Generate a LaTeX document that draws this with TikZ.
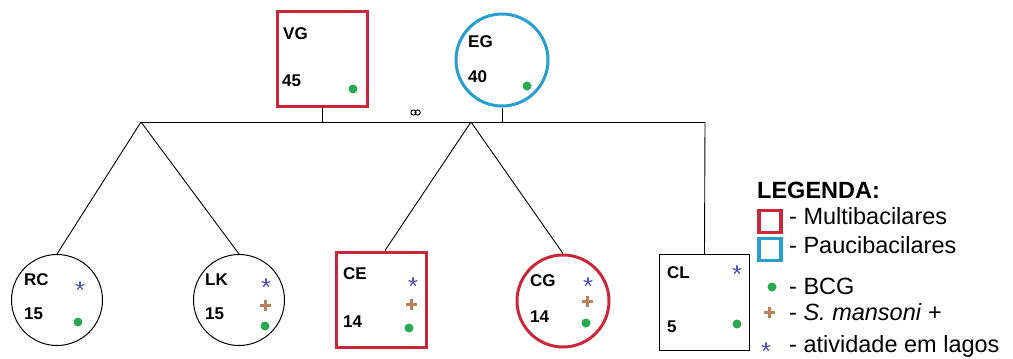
\documentclass[tikz,border=0pt]{standalone}
\usepackage{fontspec}
\setmainfont{Liberation Sans}
\definecolor{mbred}{RGB}{200,40,58}
\definecolor{pbblue}{RGB}{40,158,205}
\definecolor{bcggreen}{RGB}{40,170,80}
\definecolor{smbrown}{RGB}{185,128,88}
\definecolor{lakeblue}{RGB}{85,85,190}
\tikzset{
  famlabel/.style={anchor=base west, inner sep=0pt, font=\fontsize{17}{19}\selectfont\bfseries},
  multibox/.style={draw=mbred, line width=3pt, minimum width=90pt, minimum height=95pt, inner sep=0pt},
  plainbox/.style={draw=black, line width=0.9pt, minimum width=90pt, minimum height=96pt, inner sep=0pt},
  pauciring/.style={circle, draw=pbblue, line width=3pt, minimum size=92pt, inner sep=0pt},
  multiring/.style={circle, draw=mbred, line width=3pt, minimum size=92pt, inner sep=0pt},
  plainring/.style={circle, draw=black, line width=1pt, minimum size=91pt, inner sep=0pt},
  bcgdot/.style={circle, fill=bcggreen, minimum size=9pt, inner sep=0pt},
  link/.style={draw=black, line width=0.9pt},
  legtext/.style={anchor=base west, inner sep=0pt, font=\fontsize{23.5}{27}\selectfont},
  legicon/.style={minimum size=22pt, inner sep=0pt, line width=3.5pt},
  lakestar/.pic={\foreach \a in {90,162,234,306,18}
      \draw[lakeblue, line width=1.3pt, line cap=round] (0,0) -- (\a:4.2pt);},
  smplus/.pic={\draw[smbrown, line width=3pt] (-5.5pt,0) -- (5.5pt,0) (0,-5.5pt) -- (0,5.5pt);}
}
\begin{document}
\begin{tikzpicture}[x=1pt, y=-1pt]
\useasboundingbox (0,0) rectangle (1013,359);

% parents
\node[multibox] (VG) at (322.5,59) {};
\node[famlabel] (VGn) at (283,39) {VG};
\node[famlabel] (VGc) at (282,86) {45};
\node[bcgdot] (VGd) at (353,89) {};

\node[pauciring] (EG) at (502,60) {};
\node[famlabel] (EGn) at (468,47) {EG};
\node[famlabel] (EGc) at (468,82) {40};
\node[bcgdot] (EGd) at (527,86) {};

% marriage line and its junctions
\coordinate (Lft) at (141,122);
\coordinate (Mid) at (471,122);
\coordinate (Rgt) at (705,122);
\draw[link] (Lft) -- (Rgt);
\draw[link] (VG.south) -- (VG.south |- Lft);
\draw[link] (EG.south) -- (EG.south |- Lft);
\draw[line width=0.9pt] (413.5,112.5) circle (2.6pt) (417.7,112.5) circle (2.6pt);

% children
\node[plainring] (RC) at (57,300) {};
\node[famlabel] (RCn) at (24,285) {RC};
\node[famlabel] (RCc) at (24,319) {15};
\pic at (80,286) {lakestar};
\node[bcgdot] (RCd) at (78,322) {};

\node[plainring] (LK) at (239,300) {};
\node[famlabel] (LKn) at (205,285) {LK};
\node[famlabel] (LKc) at (205,319) {15};
\pic at (266,283) {lakestar};
\pic at (265,305) {smplus};
\node[bcgdot] (LKd) at (265,326) {};

\node[multibox] (CE) at (381,299.5) {};
\node[famlabel] (CEn) at (343,279) {CE};
\node[famlabel] (CEc) at (343,327) {14};
\pic at (413,282) {lakestar};
\pic at (411,304) {smplus};
\node[bcgdot] (CEd) at (409,328) {};

\node[multiring] (CG) at (563,301) {};
\node[famlabel] (CGn) at (530,286) {CG};
\node[famlabel] (CGc) at (530,322) {14};
\pic at (588,282) {lakestar};
\pic at (587,301) {smplus};
\node[bcgdot] (CGd) at (586,323) {};

\node[plainbox] (CL) at (704.5,302.5) {};
\node[famlabel] (CLn) at (667,278) {CL};
\node[famlabel] (CLc) at (667,332) {5};
\pic at (737,270) {lakestar};
\node[bcgdot] (CLd) at (737,324) {};

% descent lines
\draw[link] (Lft) -- (RC.north);
\draw[link] (Lft) -- (LK.north);
\draw[link] (Mid) -- ([xshift=4pt]CE.north);
\draw[link] (Mid) -- (CG.north);
\draw[link] (Rgt) -- (CL.north);

% key
\node[legtext, font=\fontsize{23.5}{27}\selectfont\bfseries] (keyhead) at (757,198) {LEGENDA:};
\node[legicon, draw=mbred] (keymb) at (770,221.5) {};
\node[legtext] (keymbt) at (789,224) {- Multibacilares};
\node[legicon, draw=pbblue] (keypb) at (770,249.5) {};
\node[legtext] (keypbt) at (789,253) {- Paucibacilares};
\node[bcgdot] (keybcg) at (772,287) {};
\node[legtext] (keybcgt) at (789,294) {- BCG};
\pic at (769,312) {smplus};
\node[legtext] (keysmt) at (789,320) {- \textit{S. mansoni} +};
\pic at (766,347) {lakestar};
\node[legtext] (keylakt) at (789,352) {- atividade em lagos};
\end{tikzpicture}
\end{document}
